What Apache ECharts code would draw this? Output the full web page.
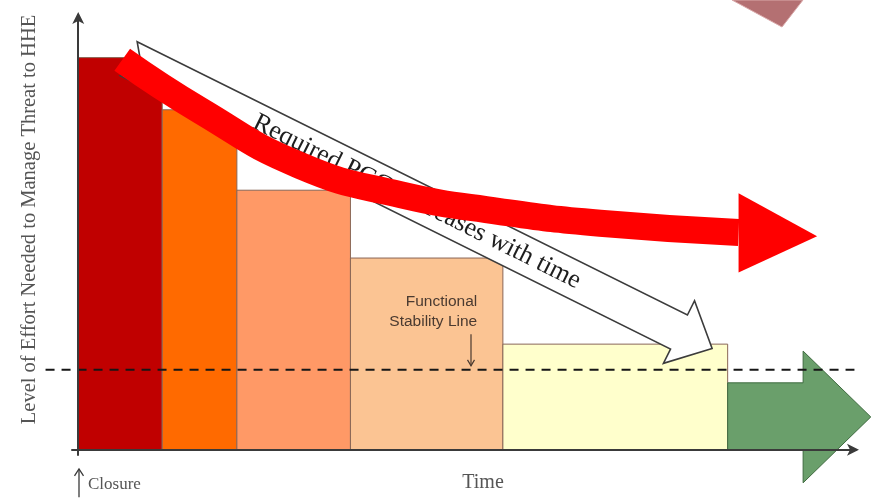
<!DOCTYPE html>
<html>
<head>
<meta charset="utf-8">
<script src="https://cdn.jsdelivr.net/npm/echarts@6/dist/echarts.min.js"></script>
<style>html,body{margin:0;padding:0;background:#fff}#chart{width:874px;height:498px}</style>
</head>
<body>
<div id="chart"></div>
<script>
// Effort phases after closure: span on the time axis and level of effort
const phaseStart  = [0, 10.8, 20.4, 35.0, 54.6];
const phaseEnd    = [10.8, 20.4, 35.0, 54.6, 83.5];
const phaseEffort = [90.2, 78.2, 59.7, 44.1, 24.3];
const phaseColors = ['#C00000', '#FF6A00', '#FF9966', '#FBC493', '#FFFFCC'];

// Long-term arrow: start, head start, tip, body top, head top, head bottom
const stewardship = [83.5, 93.2, 101.9, 15.4, 22.7, -7.6];

// Functional stability line
const stabilityLevel = 18.4;
const stabilityExtent = [-4.2, 99.8];
const stabilityLabel = ['Functional', 'Stability Line'];
const stabilityLabelPos = [51.3, 34.0, 29.4];      // right edge, line 1, line 2
const stabilityPointer = [50.5, 26.6, 19.3];       // x, from, to

// Overall trend curve (red arrow)
const trendX = [5.66, 15.7, 28.5, 41.4, 54.2, 67.1, 84.9];
const trendY = [89.7, 78.0, 65.4, 58.7, 54.8, 52.1, 50.0];
const trendHead = [84.9, 59.0, 40.8, 95.0, 49.1]; // base x, top, bottom, tip x, tip y

// "Required PCC decreases with time" arrow: tail centre and tip
const pccTail = [6.49, 89.95];
const pccTip  = [81.5, 23.3];
const pccText = 'Required PCC decreases with time';

// Closure marker under the origin
const closureX = 0.1;
const closureArrow = [-4.4, -10.9];
const closureText = 'Closure';

const chart = echarts.init(document.getElementById('chart'), null, { renderer: 'canvas' });

const serif = '"Liberation Serif", "DejaVu Serif", serif';

function renderPhase(params, api) {
  const i = params.dataIndex;
  const p0 = api.coord([api.value(0), api.value(2)]);
  const p1 = api.coord([api.value(1), 0]);
  return {
    type: 'rect',
    shape: { x: p0[0], y: p0[1], width: p1[0] - p0[0], height: p1[1] - p0[1] },
    style: { fill: phaseColors[i], stroke: '#8a6656', lineWidth: 1 }
  };
}

function renderStewardship(params, api) {
  const [x0, xh, xt, top, hTop, hBot] = stewardship;
  const mid = (hTop + hBot) / 2;
  const pts = [[x0, 0], [x0, top], [xh, top], [xh, hTop], [xt, mid], [xh, hBot], [xh, 0]].map(p => api.coord(p));
  return {
    type: 'polygon',
    shape: { points: pts },
    style: { fill: '#6A9F6B', stroke: '#3f6b40', lineWidth: 1 }
  };
}

function renderStability(params, api) {
  const a = api.coord([stabilityExtent[0], stabilityLevel]);
  const b = api.coord([stabilityExtent[1], stabilityLevel]);
  return {
    type: 'line',
    shape: { x1: a[0], y1: a[1], x2: b[0], y2: b[1] },
    style: { stroke: '#161616', lineWidth: 2, lineDash: [9, 7] }
  };
}

function renderPcc(params, api) {
  const a = api.coord(pccTail), b = api.coord(pccTip);
  const dx = b[0] - a[0], dy = b[1] - a[1];
  const len = Math.hypot(dx, dy);
  const ux = dx / len, uy = dy / len;
  const nx = -uy, ny = ux;
  const hs = 19, hh = 35, hl = 37, notch = 14;
  const bx = b[0] - ux * hl, by = b[1] - uy * hl;
  const P = (x, y, s) => [x + nx * s, y + ny * s];
  const pts = [
    P(a[0], a[1], -hs), P(bx, by, -hs), P(bx, by, -hh), b,
    P(bx, by, hh), P(bx, by, hs), P(a[0], a[1], hs),
    [a[0] + ux * notch, a[1] + uy * notch]
  ];
  const mx = (a[0] + b[0]) / 2 - ux * 4, my = (a[1] + b[1]) / 2 - uy * 4;
  return {
    type: 'group',
    children: [
      { type: 'polygon', shape: { points: pts }, style: { fill: '#ffffff', stroke: '#3c3c3c', lineWidth: 1.6 } },
      {
        type: 'text', x: mx, y: my, rotation: -Math.atan2(dy, dx),
        style: { text: pccText, font: '26px ' + serif, fill: '#1e1e1e', align: 'center', verticalAlign: 'middle' }
      }
    ]
  };
}

function renderTrendHead(params, api) {
  const [bx, top, bot, tx, ty] = trendHead;
  return {
    type: 'polygon',
    shape: { points: [api.coord([bx, top]), api.coord([tx, ty]), api.coord([bx, bot])] },
    style: { fill: '#FF0000' }
  };
}

function renderNotes(params, api) {
  const l1 = api.coord([stabilityLabelPos[0], stabilityLabelPos[1]]);
  const l2 = api.coord([stabilityLabelPos[0], stabilityLabelPos[2]]);
  const pa = api.coord([stabilityPointer[0], stabilityPointer[1]]);
  const pb = api.coord([stabilityPointer[0], stabilityPointer[2]]);
  const ca = api.coord([closureX, closureArrow[0]]);
  const cb = api.coord([closureX, closureArrow[1]]);
  const ct = api.coord([closureX, (closureArrow[0] + closureArrow[1]) / 2]);
  const sansStyle = { font: '15.5px "Liberation Sans", Arial, sans-serif', fill: '#4a3a30', align: 'right', verticalAlign: 'middle' };
  return {
    type: 'group',
    children: [
      { type: 'text', x: l1[0], y: l1[1], style: Object.assign({ text: stabilityLabel[0] }, sansStyle) },
      { type: 'text', x: l2[0], y: l2[1], style: Object.assign({ text: stabilityLabel[1] }, sansStyle) },
      { type: 'line', shape: { x1: pa[0], y1: pa[1], x2: pb[0], y2: pb[1] }, style: { stroke: '#4a3a30', lineWidth: 1.2 } },
      { type: 'polyline', shape: { points: [[pb[0] - 3.5, pb[1] - 6], [pb[0], pb[1]], [pb[0] + 3.5, pb[1] - 6]] }, style: { stroke: '#4a3a30', lineWidth: 1.2, fill: null } },
      { type: 'line', shape: { x1: ca[0], y1: ca[1], x2: cb[0], y2: cb[1] }, style: { stroke: '#3a3a3a', lineWidth: 1.3 } },
      { type: 'polyline', shape: { points: [[ca[0] - 4.5, ca[1] + 7], [ca[0], ca[1]], [ca[0] + 4.5, ca[1] + 7]] }, style: { stroke: '#3a3a3a', lineWidth: 1.3, fill: null } },
      { type: 'text', x: ca[0] + 9, y: ct[1] + 1, style: { text: closureText, font: '17px ' + serif, fill: '#555555', align: 'left', verticalAlign: 'middle' } }
    ]
  };
}

const axisLine = {
  show: true, onZero: true,
  symbol: ['none', 'arrow'], symbolSize: [9, 12], symbolOffset: [0, 3],
  lineStyle: { color: '#3a3a3a', width: 2 }
};

chart.setOption({
  animation: false,
  backgroundColor: '#ffffff',
  grid: { left: 72, right: 18, top: 15, bottom: 42 },
  xAxis: {
    type: 'value', min: -0.8, max: 100, z: 10,
    name: 'Time', nameLocation: 'middle', nameGap: 18,
    nameTextStyle: { fontFamily: serif, fontSize: 20, color: '#555555', padding: [0, 0, 0, 38] },
    axisLine: axisLine, axisTick: { show: false }, axisLabel: { show: false }, splitLine: { show: false }
  },
  yAxis: {
    type: 'value', min: -1.2, max: 100, z: 10,
    name: 'Level of Effort Needed to Manage Threat to HHE', nameLocation: 'middle', nameGap: 32, nameRotate: 90,
    nameTextStyle: { fontFamily: serif, fontSize: 20.5, color: '#555555', padding: [0, 0, 0, 31] },
    axisLine: axisLine, axisTick: { show: false }, axisLabel: { show: false }, splitLine: { show: false }
  },
  graphic: [{
    type: 'polygon', silent: true, z: 1,
    shape: { points: [[732, 0], [803, 0], [782, 27]] },
    style: { fill: '#B47072', stroke: '#d9a9aa', lineWidth: 1 }
  }],
  series: [
    {
      type: 'custom', name: 'phases', z: 2, silent: true,
      data: phaseStart.map((s, i) => [s, phaseEnd[i], phaseEffort[i]]),
      renderItem: renderPhase
    },
    {
      type: 'custom', name: 'long term', z: 2, silent: true,
      data: [stewardship], renderItem: renderStewardship
    },
    {
      type: 'custom', name: 'stability', z: 3, silent: true,
      data: [[stabilityExtent[0], stabilityLevel]], renderItem: renderStability
    },
    {
      type: 'custom', name: 'pcc', z: 4, silent: true,
      data: [pccTail.concat(pccTip)], renderItem: renderPcc
    },
    {
      type: 'line', name: 'trend', z: 5, silent: true, clip: false,
      data: trendX.map((x, i) => [x, trendY[i]]),
      smooth: 0.5, symbol: 'none',
      lineStyle: { color: '#FF0000', width: 27, cap: 'butt' }
    },
    {
      type: 'custom', name: 'trend head', z: 5, silent: true,
      data: [trendHead], renderItem: renderTrendHead
    },
    {
      type: 'custom', name: 'notes', z: 6, silent: true,
      data: [[0]], renderItem: renderNotes
    }
  ]
});
</script>
</body>
</html>
